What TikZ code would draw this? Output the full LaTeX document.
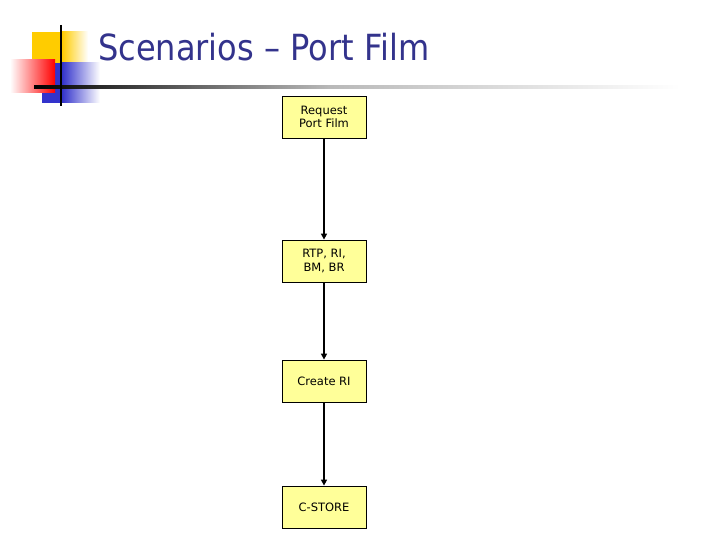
\documentclass[tikz,border=0pt]{standalone}
\usepackage{fontspec}
\setmainfont{DejaVu Sans}
\usetikzlibrary{arrows.meta}
\definecolor{titleblue}{RGB}{51,51,140}
\definecolor{boxfill}{RGB}{255,255,153}
\definecolor{decyellow}{RGB}{255,204,0}
\definecolor{decblue}{RGB}{51,51,204}
\definecolor{decred}{RGB}{255,0,0}
\tikzset{
  stepbox/.style={draw=black, line width=0.8pt, fill=boxfill, minimum width=84pt, minimum height=42pt, inner sep=0pt, align=center, font=\fontsize{11.5}{13.5}\selectfont},
  flow/.style={line width=1.8pt, -{Triangle[width=6pt,length=6pt]}}
}
\begin{document}
\begin{tikzpicture}[x=1pt,y=-1pt]
\useasboundingbox (0,0) rectangle (720,540);
\fill[white] (0,0) rectangle (720,540);
% decoration
\fill[decyellow] (32,32) rectangle (62,72);
\shade[left color=decyellow, right color=white] (62,32) rectangle (88,72);
\fill[decblue] (42,63) rectangle (62,103);
\shade[left color=decblue, right color=white] (62,63) rectangle (100,103);
\shade[left color=white, right color=decred] (10,60) rectangle (55,93);
\shade[left color=black, right color=gray!55] (34,85.8) rectangle (330,88.2);
\shade[left color=gray!55, right color=white] (330,85.8) rectangle (680,88.2);
\draw[line width=2pt] (61,25) -- (61,106);
% title
\node[anchor=base west, inner sep=0pt, text=titleblue, font=\fontsize{36}{42}\selectfont] (title) at (98,61) {\scalebox{0.89}[1]{Scenarios – Port Film}};
% boxes
\node[stepbox] (req) at (324,117) {Request\\Port Film};
\node[stepbox] (rtp) at (324,261) {RTP, RI,\\BM, BR};
\node[stepbox] (cri) at (324,381) {Create RI};
\node[stepbox] (cst) at (324,507) {C-STORE};
\draw[flow] (req) -- (rtp);
\draw[flow] (rtp) -- (cri);
\draw[flow] (cri) -- (cst);
\end{tikzpicture}
\end{document}
